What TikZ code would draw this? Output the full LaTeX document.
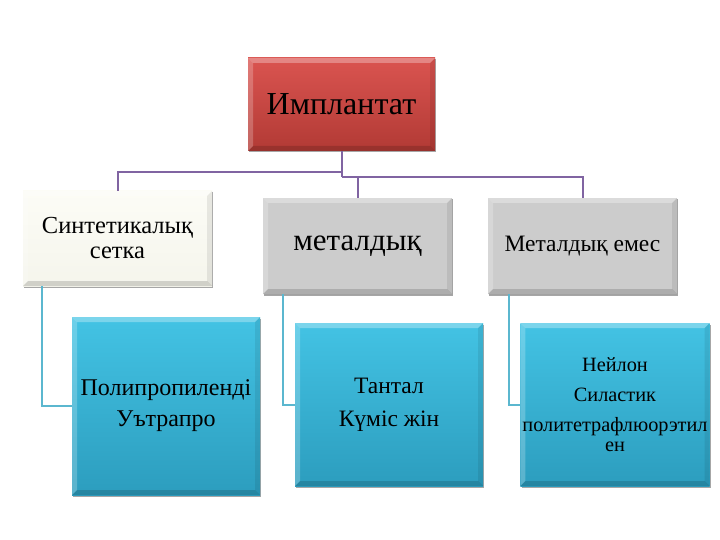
\documentclass[tikz,border=0pt]{standalone}
\usepackage{fontspec}
\setmainfont{Liberation Serif}
\usetikzlibrary{shadows,calc}
\definecolor{redtop}{HTML}{DA5450}
\definecolor{redbot}{HTML}{B23A35}
\definecolor{ivtop}{HTML}{FCFCF6}
\definecolor{ivbot}{HTML}{F5F5EC}
\definecolor{graybox}{HTML}{CCCCCC}
\definecolor{cyantop}{HTML}{43C3E4}
\definecolor{cyanbot}{HTML}{2C9DBE}
\definecolor{pline}{HTML}{8064A2}
\definecolor{cline}{HTML}{5BB7CF}
\tikzset{
  bevel/.style={path picture={
    \coordinate (bnw) at (path picture bounding box.north west);
    \coordinate (bne) at (path picture bounding box.north east);
    \coordinate (bsw) at (path picture bounding box.south west);
    \coordinate (bse) at (path picture bounding box.south east);
    \fill[white,opacity=.30] (bnw) -- (bne) -- ([shift={(-5pt,-5pt)}]bne) -- ([shift={(5pt,-5pt)}]bnw) -- cycle;
    \fill[white,opacity=.22] (bnw) -- (bsw) -- ([shift={(5pt,5pt)}]bsw) -- ([shift={(5pt,-5pt)}]bnw) -- cycle;
    \fill[black,opacity=.15] (bsw) -- (bse) -- ([shift={(-5pt,5pt)}]bse) -- ([shift={(5pt,5pt)}]bsw) -- cycle;
    \fill[black,opacity=.08] (bne) -- (bse) -- ([shift={(-5pt,5pt)}]bse) -- ([shift={(-5pt,-5pt)}]bne) -- cycle;
  }},
  basebox/.style={rectangle, inner sep=2pt, align=center, text=black, bevel,
    drop shadow={shadow xshift=1.2pt, shadow yshift=-1.5pt, opacity=0.35, fill=black}},
  rootbox/.style={basebox, top color=redtop, bottom color=redbot,
    minimum width=187pt, minimum height=93pt, font=\fontsize{32}{36}\selectfont},
  ivorybox/.style={basebox, top color=ivtop, bottom color=ivbot,
    minimum width=189pt, minimum height=95pt},
  graybx/.style={basebox, fill=graybox, minimum width=189pt, minimum height=96pt},
  leafbox/.style={basebox, top color=cyantop, bottom color=cyanbot, minimum width=188pt},
  purpleline/.style={draw=pline, line width=2pt},
  cyanline/.style={draw=cline, line width=2pt},
}
\begin{document}
\begin{tikzpicture}[x=1pt,y=-1pt]
\useasboundingbox[fill=white] (0,0) rectangle (720,540);
\node[rootbox] (root) at (341.5,104.5) {Имплантат};
\node[ivorybox, font=\fontsize{24.5}{25}\selectfont] (b1) at (117.5,238.5) {Синтетикалық\\сетка};
\node[graybx, font=\fontsize{31}{34}\selectfont] (b2) at (357.5,246) {металдық};
\node[graybx, font=\fontsize{23.5}{26}\selectfont] (b3) at (582.5,246) {Металдық емес};
\node[leafbox, minimum height=178pt, font=\fontsize{24}{25}\selectfont] (ca) at (166,406) {Полипропилендi\\[6pt]Уътрапро};
\node[leafbox, minimum height=163pt, font=\fontsize{23.5}{25}\selectfont] (cb) at (389,404.5) {Тантал\\[8pt]Күміс жін};
\node[leafbox, minimum height=163pt, font=\fontsize{20.3}{20}\selectfont] (cc) at (615,404.5) {Нейлон\\[10pt]Силастик\\[10pt]политетрафлюорэтил\\ен};
\coordinate (j1) at ($(root.south)+(0,21)$);
\coordinate (j2) at ($(root.south)+(0,26)$);
\draw[purpleline] (root.south) -- (j2);
\draw[purpleline] (j1) -| (b1.north);
\draw[purpleline] (j2) -| (b3.north);
\draw[purpleline] (j2) -| (b2.north);
\draw[cyanline] ($(b1.south west)+(19,0)$) |- (ca.west);
\draw[cyanline] ($(b2.south west)+(20,0)$) |- (cb.west);
\draw[cyanline] ($(b3.south west)+(21,0)$) |- (cc.west);
\end{tikzpicture}
\end{document}
